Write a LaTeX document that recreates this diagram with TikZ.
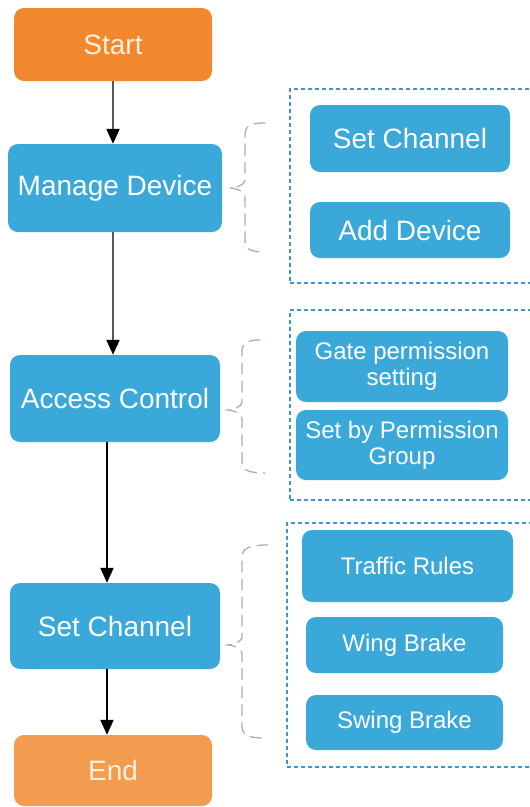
\documentclass[tikz,border=0pt]{standalone}
\usepackage{fontspec}
\setmainfont{Liberation Sans}
\usetikzlibrary{arrows.meta, positioning}
\definecolor{stepblue}{RGB}{58,168,216}
\definecolor{startorange}{RGB}{242,136,46}
\definecolor{endorange}{RGB}{243,156,80}
\definecolor{creamtext}{RGB}{255,242,218}
\definecolor{groupblue}{RGB}{60,150,205}
\definecolor{bracegray}{RGB}{165,175,185}

\begin{document}
\begin{tikzpicture}[x=1pt, y=-1pt,
  box/.style={rectangle, rounded corners=10pt, inner sep=2pt, align=center,
              text=white, font=\fontsize{28}{32}\selectfont},
  mainstep/.style={box, fill=stepblue, minimum width=210pt, minimum height=87pt},
  terminal/.style={box, minimum width=198pt, minimum height=72pt, text=creamtext},
  substep/.style={box, fill=stepblue},
  smalltext/.style={font=\fontsize{24}{26}\selectfont},
  grpbox/.style={draw=groupblue, line width=2.4pt, dash pattern=on 4pt off 3pt},
  arr/.style={-{Triangle[length=15pt, width=13pt, color=black]}, line width=2pt},
  bracket/.style={draw=bracegray, line width=1.3pt, dash pattern=on 11pt off 7pt,
                  line cap=round}
]
\useasboundingbox (0,0) rectangle (530,807);

% ===== Main flow column =====
\node[terminal, fill=startorange, minimum height=73pt] (start) at (113,44.5) {Start};
\node[mainstep, minimum width=214pt, minimum height=88pt] (manage) at (115,188) {Manage Device};
\node[mainstep] (access) at (115,398.5) {Access Control};
\node[mainstep, minimum height=86pt] (setch) at (115,626) {Set Channel};
\node[terminal, fill=endorange, minimum height=71pt] (end) at (113,770.5) {End};

% ===== Arrows =====
\draw[arr, draw=black!65] (start.south) -- (start.south |- manage.north);
\draw[arr, draw=black!65] ([xshift=-2pt]manage.south) -- ([xshift=-2pt]access.north);
\draw[arr] ([xshift=-8pt]access.south) -- ([xshift=-8pt]setch.north);
\draw[arr] ([xshift=-8pt]setch.south) -- ([xshift=-6pt]end.north);

% ===== Dotted group frames =====
\node[grpbox, minimum width=250pt, minimum height=194pt] (grpmanage) at (415,186) {};
\node[grpbox, minimum width=250pt, minimum height=190pt] (grpaccess) at (415,405) {};
\node[grpbox, minimum width=253pt, minimum height=244pt] (grpchannel) at (413.5,645) {};

% ===== Sub steps =====
\node[substep, minimum width=200pt, minimum height=67pt] (subch)   at (410,138.5) {Set Channel};
\node[substep, minimum width=200pt, minimum height=56pt] (adddev)  at (410,230)   {Add Device};
\node[substep, smalltext, minimum width=212pt, minimum height=71pt] (gate) at (402,366.5)
     {Gate permission\\setting};
\node[substep, smalltext, minimum width=212pt, minimum height=70pt] (permgrp) at (402,445)
     {Set by Permission\\Group};
\node[substep, smalltext, minimum width=211pt, minimum height=72pt] (traffic) at (407.5,566) {Traffic Rules};
\node[substep, smalltext, minimum width=197pt, minimum height=56pt] (wing)    at (404.5,645) {Wing Brake};
\node[substep, smalltext, minimum width=197pt, minimum height=55pt] (swing)   at (404.5,722.5) {Swing Brake};

% ===== Braces =====
\draw[bracket] (265,123) .. controls (250,123) and (245,126) .. (245,135) -- (245,180)
  .. controls (245,185) and (235,188) .. (230,188) .. controls (235,188) and (245,191) .. (245,196)
  -- (245,240) .. controls (245,249) and (250,252) .. (265,252);
\draw[bracket] (260,340) .. controls (247,340) and (242,343) .. (242,352) -- (242,402)
  .. controls (242,407) and (232,410) .. (228,410) .. controls (232,410) and (242,413) .. (242,418)
  -- (242,461) .. controls (242,470) and (248,473) .. (265,473);
\draw[bracket] (268,545) .. controls (250,545) and (242,548) .. (242,557) -- (242,637)
  .. controls (242,642) and (232,645) .. (228,645) .. controls (232,645) and (242,648) .. (242,653)
  -- (242,726) .. controls (242,735) and (248,738) .. (265,738);

\end{tikzpicture}
\end{document}
